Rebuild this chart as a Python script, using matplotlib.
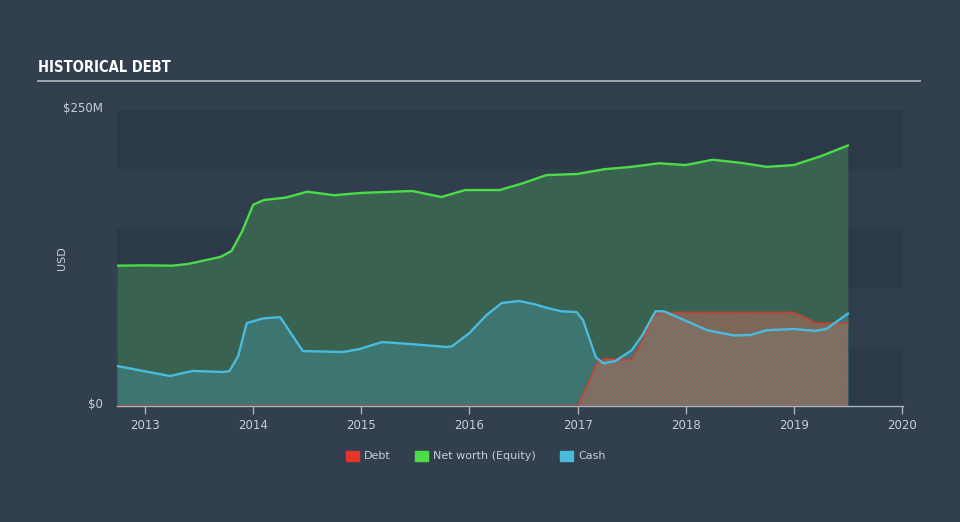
import numpy as np
import matplotlib
matplotlib.use("Agg")
import matplotlib.pyplot as plt
from matplotlib.patches import Patch

# data (USD millions)
eq_x = [2012.74, 2013.0, 2013.25, 2013.4, 2013.55, 2013.7, 2013.8, 2013.9, 2014.0, 2014.1,
        2014.3, 2014.5, 2014.75, 2015.0, 2015.3, 2015.47, 2015.74, 2015.96, 2016.28, 2016.49,
        2016.71, 2017.0, 2017.25, 2017.5, 2017.75, 2018.0, 2018.25, 2018.5, 2018.75, 2019.0,
        2019.25, 2019.5]
eq_y = [118.5, 118.8, 118.5, 120, 123, 126, 131, 148, 170, 174,
        176, 181, 178, 180, 181, 181.6, 176.5, 182.4, 182.4, 188,
        195, 196, 200, 202, 205, 203.5, 208, 205.5, 202, 203.5,
        211, 220]

cash_x = [2012.74, 2012.98, 2013.23, 2013.44, 2013.72, 2013.78, 2013.86, 2013.94, 2014.09, 2014.25,
          2014.34, 2014.46, 2014.83, 2014.98, 2015.19, 2015.35, 2015.5, 2015.79, 2015.84, 2016.0,
          2016.16, 2016.3, 2016.46, 2016.6, 2016.71, 2016.85, 2016.99, 2017.05, 2017.17, 2017.24,
          2017.35, 2017.5, 2017.6, 2017.72, 2017.8, 2018.0, 2018.2, 2018.45, 2018.6, 2018.75,
          2019.0, 2019.2, 2019.3, 2019.5]
cash_y = [33.8, 29.6, 25.3, 29.6, 28.7, 29.5, 42, 70, 74, 75,
          62.5, 46.4, 45.6, 48, 54, 53, 52, 49.8, 50.5, 61.6,
          77, 87, 88.7, 86, 83, 80, 79.4, 72.6, 41, 36,
          38, 47, 60, 80, 80, 72, 64, 59.5, 60, 64,
          65, 63.5, 65, 78]

debt_x = [2012.74, 2017.0, 2017.08, 2017.18, 2017.25, 2017.5, 2017.6, 2017.7, 2017.78,
          2019.0, 2019.08, 2019.2, 2019.5]
debt_y = [0, 0, 15, 37, 40, 39, 55, 76, 79,
          79, 76, 70, 70]

year_ticks = [2013, 2014, 2015, 2016, 2017, 2018, 2019, 2020]
legend_labels = ["Debt", "Net worth (Equity)", "Cash"]

bg = "#323f4f"
band_dark = "#2c3949"
band_light = "#313e4e"
c_debt = "#e5352b"
c_eq = "#4cdc48"
c_cash = "#4bbbdd"
txt = "#c9ced4"

plt.rcParams["hatch.linewidth"] = 0.9

fig = plt.figure(figsize=(9.6, 5.22), dpi=100, facecolor=bg)
ax = fig.add_axes([117 / 960, 1 - 406 / 522, (903 - 117) / 960, (406 - 110) / 522])
ax.set_facecolor(band_dark)
ax.set_xlim(2012.74, 2020.01)
ax.set_ylim(0, 250)

for i in range(5):
    ax.axhspan(i * 50, (i + 1) * 50, color=band_dark if i % 2 == 0 else band_light, lw=0, zorder=0)

ax.fill_between(eq_x, eq_y, color="#3a6250", lw=0, zorder=1)
ax.fill_between(cash_x, cash_y, color="#3d7570", lw=0, zorder=2)
ax.fill_between(debt_x, debt_y, facecolor=(0.55, 0.55, 0.55, 0.35), edgecolor=(0.72, 0.36, 0.27, 0.85),
                hatch="/" * 9, lw=0, zorder=3)
ax.plot(debt_x, debt_y, color=c_debt, lw=1.3, alpha=0.7, zorder=4)
ax.plot(eq_x, eq_y, color=c_eq, lw=1.7, zorder=5)
ax.plot(cash_x, cash_y, color=c_cash, lw=1.7, zorder=6)

for s in ["top", "right", "left"]:
    ax.spines[s].set_visible(False)
ax.spines["bottom"].set_color("#aab2bc")
ax.spines["bottom"].set_linewidth(1)
ax.set_xticks(year_ticks)
ax.set_xticklabels([str(y) for y in year_ticks])
ax.tick_params(axis="x", colors="#aab2bc", labelcolor=txt, labelsize=8.5, length=6, width=1)
ax.set_yticks([])

fig.text(103 / 960, 1 - 108 / 522, "$250M", color=txt, fontsize=8.5, ha="right", va="center")
fig.text(103 / 960, 1 - 404 / 522, "$0", color=txt, fontsize=8.5, ha="right", va="center")
fig.text(62 / 960, 1 - 258 / 522, "USD", color=txt, fontsize=8, rotation=90, ha="center", va="center")

fig.text(38 / 960, 1 - 68 / 522, "HISTORICAL DEBT", color="white", fontsize=10.5, fontweight="bold",
         fontstretch="condensed", family=["DejaVu Sans"], ha="left", va="center")
fig.add_artist(plt.Line2D([38 / 960, 920 / 960], [1 - 81 / 522, 1 - 81 / 522], color="#a8b0b8", lw=1.3))

handles = [Patch(color=c_debt), Patch(color=c_eq), Patch(color=c_cash)]
leg = fig.legend(handles, legend_labels, loc="center", bbox_to_anchor=(476 / 960, 1 - 456 / 522),
                 ncol=3, frameon=False, fontsize=8, handlelength=1.1, handleheight=1.0,
                 handletextpad=0.5, columnspacing=2.2)
for t in leg.get_texts():
    t.set_color(txt)

fig.savefig("out.png", dpi=100, facecolor=bg)
